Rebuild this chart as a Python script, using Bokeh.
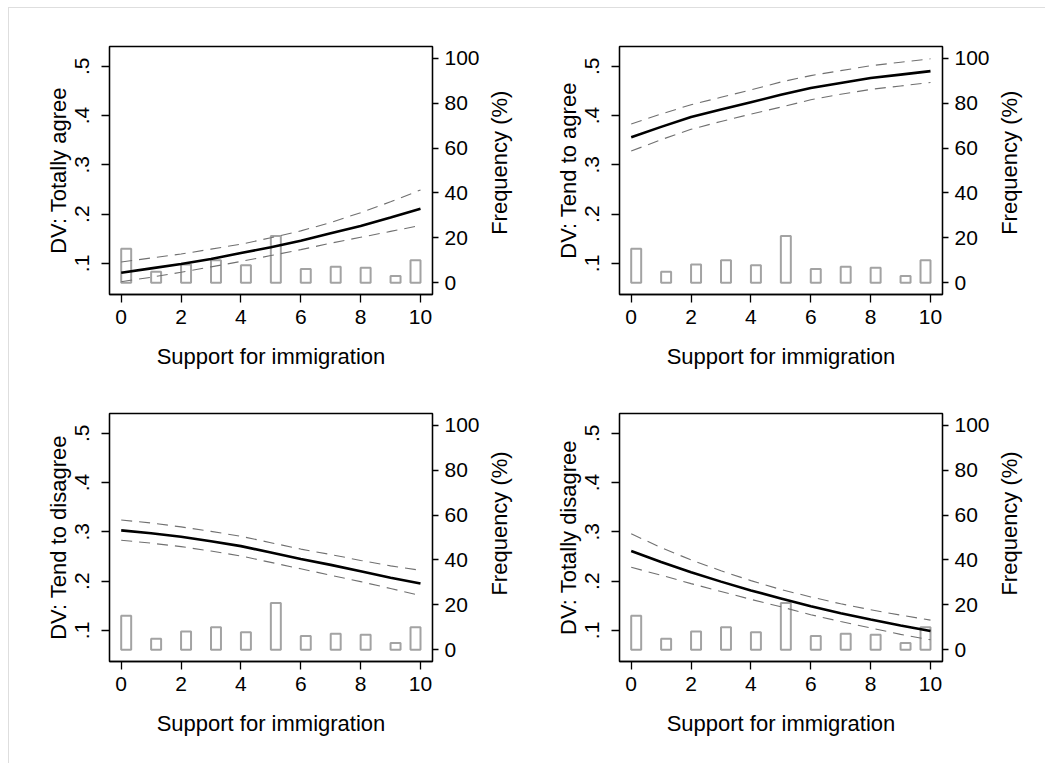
import math
from bokeh.plotting import figure
from bokeh.models import Range1d, LinearAxis, FixedTicker, CustomJSTickFormatter, Label
from bokeh.layouts import row, column
from bokeh.embed import file_html
from bokeh.resources import INLINE

# ---------------- data ----------------
support = [0, 1, 2, 3, 4, 5, 6, 7, 8, 9, 10]
freq_pct = [15.2, 4.9, 8.2, 10.0, 7.8, 20.8, 6.2, 7.1, 6.7, 3.0, 10.0]
hist_bins = 30  # histogram bins over 0..10

dv_labels = ["DV: Totally agree", "DV: Tend to agree",
             "DV: Tend to disagree", "DV: Totally disagree"]

totally_agree = [0.081, 0.090, 0.099, 0.109, 0.121, 0.133, 0.146, 0.161, 0.176, 0.193, 0.211]
totally_agree_hi = [0.103, 0.111, 0.119, 0.129, 0.139, 0.152, 0.166, 0.183, 0.203, 0.225, 0.249]
totally_agree_lo = [0.063, 0.072, 0.082, 0.093, 0.104, 0.116, 0.128, 0.141, 0.153, 0.165, 0.177]

tend_agree = [0.356, 0.377, 0.397, 0.412, 0.427, 0.442, 0.456, 0.466, 0.476, 0.483, 0.490]
tend_agree_hi = [0.383, 0.403, 0.422, 0.437, 0.452, 0.468, 0.481, 0.491, 0.501, 0.508, 0.515]
tend_agree_lo = [0.328, 0.351, 0.372, 0.388, 0.403, 0.417, 0.432, 0.443, 0.453, 0.460, 0.467]

tend_disagree = [0.303, 0.297, 0.290, 0.281, 0.271, 0.258, 0.245, 0.233, 0.220, 0.207, 0.195]
tend_disagree_hi = [0.324, 0.318, 0.310, 0.301, 0.291, 0.278, 0.265, 0.254, 0.242, 0.231, 0.222]
tend_disagree_lo = [0.283, 0.277, 0.270, 0.261, 0.251, 0.238, 0.225, 0.212, 0.199, 0.185, 0.171]

totally_disagree = [0.261, 0.239, 0.218, 0.199, 0.181, 0.165, 0.149, 0.135, 0.122, 0.110, 0.099]
totally_disagree_hi = [0.296, 0.268, 0.243, 0.221, 0.201, 0.183, 0.168, 0.154, 0.142, 0.131, 0.121]
totally_disagree_lo = [0.228, 0.212, 0.195, 0.179, 0.163, 0.148, 0.132, 0.118, 0.105, 0.092, 0.081]

x_ticks = [0, 2, 4, 6, 8, 10]
y_ticks = [0.1, 0.2, 0.3, 0.4, 0.5]
freq_ticks = [0, 20, 40, 60, 80, 100]
x_title = "Support for immigration"
freq_title = "Frequency (%)"

series = [
    (totally_agree, totally_agree_hi, totally_agree_lo),
    (tend_agree, tend_agree_hi, tend_agree_lo),
    (tend_disagree, tend_disagree_hi, tend_disagree_lo),
    (totally_disagree, totally_disagree_hi, totally_disagree_lo),
]

# histogram bin edges for the discrete values (30 bins across 0..10)
bin_w = (max(support) - min(support)) / hist_bins
bin_left = [min(v, max(support) - bin_w) for v in support]
bin_right = [b + bin_w for b in bin_left]

FONT = "Liberation Sans"
TICK_SIZE = "21px"
TITLE_SIZE = "22px"
FRAME_W = 323
FRAME_H = 248
BORDER_TOP = 38
BORDER_RIGHT = 56


def style_axis(ax, tick_out):
    ax.axis_line_color = "black"
    ax.axis_line_width = 1.3
    ax.major_tick_line_color = "black"
    ax.major_tick_line_width = 1.3
    ax.major_tick_out = tick_out
    ax.major_tick_in = 0
    ax.minor_tick_line_color = None
    ax.major_label_text_font = FONT
    ax.major_label_text_font_size = TICK_SIZE
    ax.major_label_text_color = "black"
    ax.axis_label_text_font = FONT
    ax.axis_label_text_font_size = TITLE_SIZE
    ax.axis_label_text_font_style = "normal"
    ax.axis_label_text_color = "black"


def make_panel(i, border_bottom):
    mean, hi, lo = series[i]
    p = figure(frame_width=FRAME_W, frame_height=FRAME_H,
               min_border_left=100, min_border_right=BORDER_RIGHT,
               min_border_top=BORDER_TOP, min_border_bottom=border_bottom,
               x_range=Range1d(-0.391, 10.401), y_range=Range1d(0.037, 0.540),
               output_backend="svg", toolbar_location=None)
    p.extra_y_ranges = {"freq": Range1d(-5.2, 105.2)}
    p.xgrid.visible = False
    p.ygrid.visible = False
    p.outline_line_color = "black"
    p.outline_line_width = 1.3
    p.outline_line_alpha = 1.0
    p.background_fill_color = "white"
    p.border_fill_color = "white"

    # histogram (right axis)
    p.quad(left=bin_left, right=bin_right, bottom=[0] * len(freq_pct), top=freq_pct,
           y_range_name="freq", fill_color=None, line_color="#a3a3a3", line_width=2)

    # confidence bands and prediction
    p.line(support, hi, line_color="#707070", line_width=1.1, line_dash="11 7")
    p.line(support, lo, line_color="#707070", line_width=1.1, line_dash="11 7")
    p.line(support, mean, line_color="black", line_width=2.6)

    xa = p.xaxis[0]
    xa.ticker = FixedTicker(ticks=x_ticks)
    xa.axis_label = x_title
    style_axis(xa, 8)
    xa.major_label_standoff = 7
    xa.axis_label_standoff = 17

    ya = p.yaxis[0]
    ya.ticker = FixedTicker(ticks=y_ticks)
    ya.formatter = CustomJSTickFormatter(code="return tick.toFixed(1).replace(/^0/, '');")
    ya.major_label_orientation = "vertical"
    ya.axis_label = dv_labels[i]
    style_axis(ya, 8)
    ya.major_label_standoff = 12
    ya.axis_label_standoff = 2

    ra = LinearAxis(y_range_name="freq", ticker=FixedTicker(ticks=freq_ticks))
    style_axis(ra, 6)
    ra.major_label_standoff = 6
    p.add_layout(ra, "right")
    return p


def make_side_title(width, height):
    # narrow strip holding the right-hand axis title, reading bottom-to-top
    s = figure(width=width, height=height, min_border=0,
               x_range=Range1d(0, width), y_range=Range1d(0, height),
               x_axis_type=None, y_axis_type=None,
               output_backend="svg", toolbar_location=None)
    s.outline_line_color = None
    s.xgrid.visible = False
    s.ygrid.visible = False
    s.background_fill_color = "white"
    s.border_fill_color = "white"
    s.add_layout(Label(x=11, y=height - (BORDER_TOP + FRAME_H / 2) - 10,
                       text=freq_title, angle=math.pi / 2, text_align="center",
                       text_baseline="alphabetic", text_font=FONT,
                       text_font_size=TITLE_SIZE, text_color="black"))
    return s


p1 = make_panel(0, 81)
p2 = make_panel(1, 81)
p3 = make_panel(2, 102)
p4 = make_panel(3, 102)

s1 = make_side_title(31, 367)
s2 = make_side_title(47, 367)
s3 = make_side_title(31, 388)
s4 = make_side_title(47, 388)

layout = column(row(p1, s1, p2, s2, spacing=0), row(p3, s3, p4, s4, spacing=0), spacing=0,
                styles={"margin-left": "8px", "margin-top": "7px",
                        "border-top": "1px solid #dedede", "border-left": "1px solid #dedede"})

open("out.html", "w").write(file_html(layout, INLINE))
